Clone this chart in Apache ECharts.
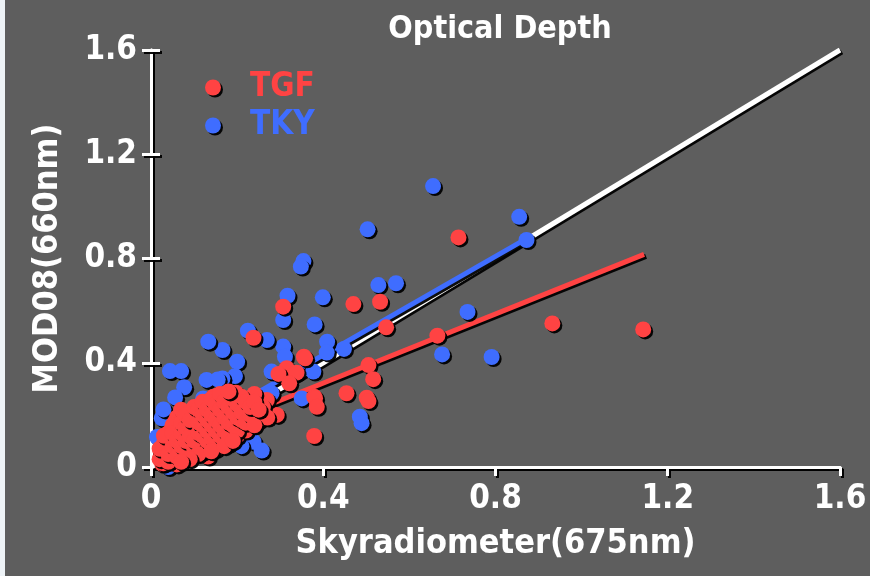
<!DOCTYPE html>
<html>
<head>
<meta charset="utf-8">
<script src="https://cdn.jsdelivr.net/npm/echarts@6/dist/echarts.min.js"></script>
<style>
  html, body { margin: 0; padding: 0; background: #eef3f7; }
  #chart { position: absolute; left: 0; top: 0; width: 870px; height: 576px; }
</style>
</head>
<body>
<div id="chart"></div>
<script>
// values
const axisTicks = [0, 0.4, 0.8, 1.2, 1.6]

const tgfPoints = [
  [0.714, 0.881], [0.932, 0.551], [1.143, 0.528], [0.665, 0.504], [0.307, 0.615],
  [0.470, 0.625], [0.532, 0.634], [0.546, 0.536], [0.355, 0.423], [0.238, 0.496],
  [0.358, 0.417], [0.315, 0.379], [0.338, 0.362], [0.296, 0.357], [0.505, 0.391],
  [0.516, 0.337], [0.321, 0.321], [0.454, 0.283], [0.379, 0.270], [0.501, 0.266],
  [0.505, 0.253], [0.381, 0.264], [0.385, 0.231], [0.379, 0.119], [0.195, 0.283],
  [0.249, 0.264], [0.132, 0.040], [0.026, 0.012], [0.197, 0.285], [0.145, 0.270],
  [0.261, 0.206], [0.292, 0.200], [0.249, 0.193], [0.238, 0.251], [0.269, 0.257],
  [0.056, 0.174], [0.075, 0.193], [0.029, 0.014],
  [0.03, 0.05], [0.04, 0.08], [0.05, 0.03], [0.05, 0.11], [0.06, 0.07], [0.06, 0.14],
  [0.07, 0.05], [0.07, 0.10], [0.08, 0.12], [0.08, 0.17], [0.09, 0.06], [0.09, 0.09],
  [0.10, 0.13], [0.10, 0.16], [0.10, 0.20], [0.11, 0.08], [0.11, 0.11], [0.11, 0.15],
  [0.12, 0.10], [0.12, 0.14], [0.12, 0.18], [0.12, 0.22], [0.13, 0.12], [0.13, 0.16],
  [0.13, 0.20], [0.14, 0.09], [0.14, 0.14], [0.14, 0.18], [0.14, 0.23], [0.15, 0.12],
  [0.15, 0.16], [0.15, 0.21], [0.16, 0.14], [0.16, 0.19], [0.16, 0.25], [0.17, 0.11],
  [0.17, 0.17], [0.17, 0.22], [0.18, 0.15], [0.18, 0.20], [0.18, 0.26], [0.19, 0.13],
  [0.19, 0.18], [0.19, 0.23], [0.20, 0.17], [0.20, 0.21], [0.20, 0.27], [0.21, 0.15],
  [0.21, 0.24], [0.22, 0.19], [0.22, 0.22], [0.23, 0.17], [0.23, 0.26], [0.24, 0.21],
  [0.25, 0.18], [0.04, 0.13], [0.06, 0.19], [0.07, 0.22], [0.08, 0.04], [0.09, 0.15],
  [0.10, 0.05], [0.11, 0.19], [0.12, 0.06], [0.13, 0.08], [0.15, 0.07], [0.16, 0.10],
  [0.02, 0.03], [0.03, 0.09], [0.05, 0.16], [0.09, 0.21], [0.18, 0.09], [0.20, 0.12],
  [0.22, 0.14], [0.26, 0.23], [0.27, 0.19], [0.24, 0.28], [0.13, 0.25], [0.17, 0.28],
  [0.06, 0.01],
  [0.02, 0.07], [0.03, 0.12], [0.04, 0.02], [0.04, 0.05], [0.05, 0.08], [0.05, 0.13],
  [0.06, 0.04], [0.06, 0.10], [0.07, 0.08], [0.07, 0.13], [0.07, 0.17], [0.08, 0.07],
  [0.08, 0.10], [0.08, 0.15], [0.08, 0.20], [0.09, 0.12], [0.09, 0.18], [0.10, 0.07],
  [0.10, 0.10], [0.10, 0.23], [0.11, 0.05], [0.11, 0.13], [0.11, 0.17], [0.11, 0.22],
  [0.12, 0.12], [0.12, 0.16], [0.12, 0.20], [0.12, 0.25], [0.13, 0.10], [0.13, 0.14],
  [0.13, 0.18], [0.13, 0.22], [0.14, 0.11], [0.14, 0.16], [0.14, 0.20], [0.14, 0.26],
  [0.15, 0.10], [0.15, 0.14], [0.15, 0.18], [0.15, 0.24], [0.16, 0.12], [0.16, 0.16],
  [0.16, 0.22], [0.16, 0.28], [0.17, 0.14], [0.17, 0.19], [0.17, 0.25], [0.18, 0.12],
  [0.18, 0.17], [0.18, 0.23], [0.19, 0.16], [0.19, 0.21], [0.19, 0.26], [0.20, 0.14],
  [0.20, 0.19], [0.20, 0.24], [0.21, 0.18], [0.21, 0.21], [0.21, 0.27], [0.22, 0.17],
  [0.22, 0.25], [0.23, 0.20], [0.23, 0.23], [0.24, 0.16], [0.24, 0.25], [0.25, 0.22],
  [0.09, 0.03], [0.14, 0.06], [0.17, 0.08], [0.19, 0.10], [0.07, 0.02], [0.18, 0.29]
]

const tkyPoints = [
  [0.655, 1.078], [0.855, 0.960], [0.872, 0.871], [0.503, 0.912], [0.354, 0.790],
  [0.348, 0.769], [0.528, 0.698], [0.569, 0.705], [0.317, 0.657], [0.399, 0.651],
  [0.735, 0.595], [0.307, 0.564], [0.380, 0.547], [0.676, 0.432], [0.791, 0.422],
  [0.409, 0.481], [0.448, 0.453], [0.408, 0.439], [0.307, 0.462], [0.311, 0.423],
  [0.225, 0.523], [0.269, 0.487], [0.166, 0.449], [0.200, 0.404], [0.280, 0.366],
  [0.377, 0.366], [0.195, 0.349], [0.280, 0.283], [0.166, 0.340], [0.133, 0.481],
  [0.044, 0.368], [0.070, 0.368], [0.129, 0.334], [0.155, 0.336], [0.077, 0.306],
  [0.056, 0.267], [0.025, 0.187], [0.350, 0.263], [0.485, 0.193], [0.489, 0.168],
  [0.238, 0.097], [0.257, 0.063], [0.121, 0.263], [0.029, 0.221], [0.021, 0.116],
  [0.014, 0.115], [0.03, 0.03], [0.04, 0.00], [0.10, 0.15], [0.15, 0.20],
  [0.08, 0.10], [0.23, 0.17], [0.21, 0.08], [0.06, 0.05]
]

// fitted lines, end points
const oneToOne = [[0, 0], [1.6, 1.6]]
const tkyFit = [[0.02, 0.07], [0.872, 0.876]]
const tgfFit = [[0.02, 0.07], [1.145, 0.816]]

const RED = "#ff4343"
const BLUE = "#3f6dff"
const FONT = "'DejaVu Sans Condensed', 'DejaVu Sans', sans-serif"

const shadow = {
  shadowColor: "rgba(0,0,0,0.95)",
  shadowBlur: 0,
  shadowOffsetX: 2,
  shadowOffsetY: 2,
}
const textShadow = {
  textShadowColor: "#000",
  textShadowBlur: 0,
  textShadowOffsetX: 2,
  textShadowOffsetY: 2,
}

const axisBase = {
  type: "value",
  min: axisTicks[0],
  max: axisTicks[axisTicks.length - 1],
  interval: axisTicks[1] - axisTicks[0],
  splitLine: {show: false},
  axisLine: {show: true, lineStyle: {color: "#fff", width: 3, ...shadow}},
  axisTick: {show: true, inside: false, length: 9, lineStyle: {color: "#fff", width: 3, ...shadow}},
}
const labelStyle = {
  color: "#fff",
  fontFamily: FONT,
  fontWeight: "bold",
  fontSize: 33,
  ...textShadow,
}
const nameStyle = {
  color: "#fff",
  fontFamily: FONT,
  fontWeight: "bold",
  fontSize: 34,
  ...textShadow,
}

const chart = echarts.init(document.getElementById("chart"))
chart.setOption({
  animation: false,
  backgroundColor: "#5e5e5e",
  title: {
    text: "Optical Depth",
    left: 495,
    top: 9,
    textAlign: "center",
    textStyle: {color: "#fff", fontFamily: FONT, fontWeight: "bold", fontSize: 32, ...textShadow},
  },
  graphic: [{
    type: "rect",
    left: 0, top: 0,
    shape: {width: 5, height: 576},
    style: {fill: "#eef3f7"},
  }],
  legend: {
    orient: "vertical",
    left: 200,
    top: 66,
    itemWidth: 16,
    itemHeight: 16,
    itemGap: 5,
    icon: "circle",
    data: [
      {name: "TGF", textStyle: {color: RED}},
      {name: "TKY", textStyle: {color: BLUE}},
    ],
    itemStyle: {opacity: 1, ...shadow},
    textStyle: {fontFamily: FONT, fontWeight: "bold", fontSize: 33, padding: [0, 0, 0, 24], ...textShadow},
  },
  grid: {left: 151, right: 30, top: 50, bottom: 109},
  xAxis: [
    {
      ...axisBase,
      position: "bottom",
      name: "Skyradiometer(675nm)",
      nameLocation: "middle",
      nameGap: 60,
      nameTextStyle: nameStyle,
      axisLabel: {...labelStyle, margin: 16},
    },
    {
      ...axisBase,
      position: "top",
      axisTick: {show: false},
      axisLabel: {show: false},
    },
  ],
  yAxis: [
    {
      ...axisBase,
      position: "left",
      name: "MOD08(660nm)",
      nameLocation: "middle",
      nameGap: 86,
      nameTextStyle: nameStyle,
      axisLabel: {...labelStyle, margin: 14},
    },
    {
      ...axisBase,
      position: "right",
      axisLabel: {show: false},
    },
  ],
  series: [
    {
      name: "1:1",
      type: "line",
      data: oneToOne,
      symbol: "none",
      z: 2,
      lineStyle: {color: "#fff", width: 5, ...shadow},
    },
    {
      name: "TKY fit",
      type: "line",
      data: tkyFit,
      symbol: "none",
      z: 2,
      lineStyle: {color: BLUE, width: 5, ...shadow},
    },
    {
      name: "TGF fit",
      type: "line",
      data: tgfFit,
      symbol: "none",
      z: 2,
      lineStyle: {color: RED, width: 5, ...shadow},
    },
    {
      name: "TKY",
      type: "scatter",
      data: tkyPoints,
      symbolSize: 16,
      z: 3,
      itemStyle: {color: BLUE, opacity: 1, ...shadow},
    },
    {
      name: "TGF",
      type: "scatter",
      data: tgfPoints,
      symbolSize: 16,
      z: 4,
      itemStyle: {color: RED, opacity: 1, ...shadow},
    },
  ],
})
</script>
</body>
</html>
